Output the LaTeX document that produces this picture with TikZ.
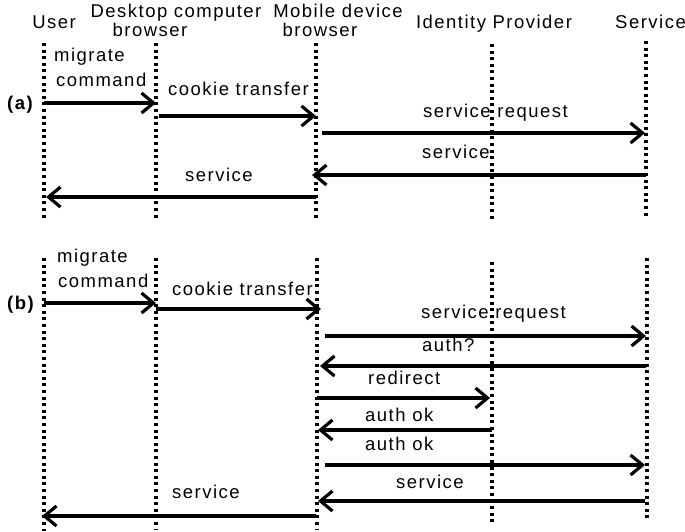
\documentclass[tikz,border=0pt]{standalone}
\usepackage{fontspec}
\setmainfont{Liberation Sans}[LetterSpace=8]
\usetikzlibrary{arrows.meta}
\begin{document}
\begin{tikzpicture}[x=1pt,y=-1pt,
  font=\fontsize{18.5}{20}\selectfont,
  life/.style={line width=3.4pt, dash pattern=on 3pt off 3.6pt},
  msg/.style={line width=3.2pt, -{Straight Barb[length=12pt,width=20pt,line width=3.2pt]}},
  lbl/.style={anchor=base west, inner sep=0pt},
  hdr/.style={anchor=base, inner sep=0pt},
  tag/.style={anchor=base west, inner sep=0pt, font=\fontsize{18.5}{20}\selectfont\bfseries}]
\useasboundingbox (0,0) rectangle (685,532);

% headers
\node[hdr] (hU) at (54,29) {User};
\node[hdr] (hD1) at (176,18) {Desktop computer};
\node[hdr] (hD2) at (150,37) {browser};
\node[hdr] (hM1) at (338,18) {Mobile device};
\node[hdr] (hM2) at (320,37) {browser};
\node[hdr] (hI) at (494,29) {Identity Provider};
\node[hdr, anchor=base east] (hS) at (686,29) {Service};

% lifelines (a)
\coordinate (aUt) at (44,43);  \coordinate (aUb) at (44,219);
\coordinate (aDt) at (156,43); \coordinate (aDb) at (156,219);
\coordinate (aMt) at (316,43); \coordinate (aMb) at (316,219);
\coordinate (aIt) at (492,44); \coordinate (aIb) at (492,221);
\coordinate (aSt) at (646,41); \coordinate (aSb) at (646,219);
\foreach \p in {U,D,M,I,S} \draw[life] (a\p t) -- (a\p b);

% lifelines (b)
\coordinate (bUt) at (44,258);  \coordinate (bUb) at (44,531);
\coordinate (bDt) at (156,258); \coordinate (bDb) at (156,529);
\coordinate (bMt) at (317,258); \coordinate (bMb) at (317,529);
\coordinate (bIt) at (492,262); \coordinate (bIb) at (492,524);
\coordinate (bSt) at (647,258); \coordinate (bSb) at (647,521);
\foreach \p in {U,D,M,I,S} \draw[life] (b\p t) -- (b\p b);

% tags
\node[tag] (ta) at (7,110) {(a)};
\node[tag] (tb) at (7,309) {(b)};

% messages
\foreach \n/\xa/\xb/\y in {
  a1/44/156/103, a2/159/316/116, a3/322/645/133, a4/646/312/175, a5/316/46/197,
  b1/44/156/303, b2/156/321/309, b3/325/646/336, b4/646/320/366, b5/317/490/398,
  b6/492/318/430, b7/325/645/465, b8/645/318/501, b9/316/42/516} {
  \coordinate (\n s) at (\xa,\y);
  \coordinate (\n e) at (\xb,\y);
  \draw[msg] (\n s) -- (\n e);
}

% labels (a)
\node[lbl] (la1a) at (54,62) {migrate};
\node[lbl] (la1b) at (56,87) {command};
\node[lbl] (la2) at (168,96) {cookie transfer};
\node[lbl] (la3) at (423,118) {service request};
\node[lbl] (la4) at (422,158) {service};
\node[lbl] (la5) at (185,181) {service};

% labels (b)
\node[lbl] (lb1a) at (57,262) {migrate};
\node[lbl] (lb1b) at (58,287) {command};
\node[lbl] (lb2) at (172,295) {cookie transfer};
\node[lbl] (lb3) at (421,318) {service request};
\node[lbl] (lb4) at (422,351) {auth?};
\node[lbl] (lb5) at (368,384) {redirect};
\node[lbl] (lb6) at (365,421) {auth ok};
\node[lbl] (lb7) at (365,450) {auth ok};
\node[lbl] (lb8) at (396,488) {service};
\node[lbl] (lb9) at (172,498) {service};
\end{tikzpicture}
\end{document}
